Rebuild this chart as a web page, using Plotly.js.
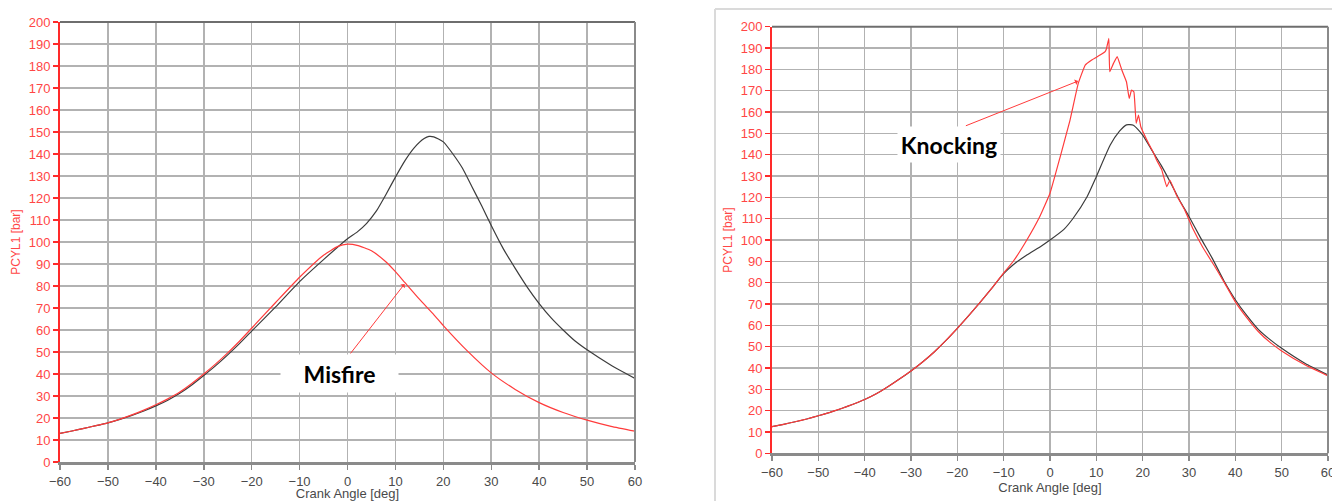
<!DOCTYPE html>
<html>
<head>
<meta charset="utf-8">
<script src="https://cdn.plot.ly/plotly-3.0.1.min.js"></script>
<style>
  html, body { margin: 0; padding: 0; background: #ffffff; }
  #chart { width: 1332px; height: 501px; }
</style>
</head>
<body>
<div id="chart"></div>
<script>
// Cylinder pressure traces, PCYL1 [bar] versus crank angle [deg]

// Left panel: normal combustion vs. misfire
const firedAngle = [-60, -57.5, -55, -52.5, -50, -47.5, -45, -42.5, -40, -37.5, -35, -32.5, -30, -27.5, -25, -22.5, -20, -15, -10, -5, 0, 2, 4, 6, 8, 10, 12, 14, 16, 17, 18, 20, 22, 24, 26, 28, 30, 32.5, 35, 37.5, 40, 42.5, 45, 47.5, 50, 55, 60];
const firedPressure = [13, 14.1, 15.3, 16.5, 17.8, 19.4, 21.2, 23.2, 25.5, 28.1, 31.2, 35, 39.3, 43.8, 48.7, 53.9, 59.5, 70.5, 82, 92, 101.5, 104.5, 108.5, 114, 121.5, 129.5, 137, 143, 147, 148, 147.8, 145.5, 140, 133.5, 125, 116.5, 107.5, 97, 88, 79.5, 72, 65.5, 60, 55, 51, 44, 38];

const misfireAngle = [-60, -57.5, -55, -52.5, -50, -47.5, -45, -42.5, -40, -37.5, -35, -32.5, -30, -27.5, -25, -22.5, -20, -15, -10, -5, -2, 0, 2, 5, 8, 10, 12, 15, 18, 20, 25, 30, 35, 40, 45, 50, 55, 60];
const misfirePressure = [13, 14.1, 15.3, 16.5, 17.8, 19.5, 21.4, 23.6, 26, 28.7, 31.8, 35.7, 40, 44.6, 49.6, 55, 60.8, 72.5, 84, 94, 98, 99, 98.5, 96, 91, 86.5, 81.5, 74, 67, 62, 50.5, 40.5, 33, 27, 22.5, 19, 16.2, 14];

// Right panel: normal combustion vs. knocking
const normalAngle = [-60, -57.5, -55, -52.5, -50, -47.5, -45, -42.5, -40, -37.5, -35, -32.5, -30, -27.5, -25, -22.5, -20, -17.5, -15, -12.5, -10, -8, -5, -2, 0, 3, 5, 8, 10, 13, 15, 16.5, 18, 20, 22, 24, 26, 28, 30, 32.5, 35, 37.5, 40, 42.5, 45, 47.5, 50, 55, 60];
const normalPressure = [12.5, 13.6, 14.8, 16.1, 17.6, 19.2, 21, 23, 25.2, 27.9, 31.2, 34.8, 38.6, 42.8, 47.5, 52.8, 58.6, 64.7, 71, 77.6, 84.2, 88.3, 93, 97, 100, 105, 110.2, 120.3, 129.7, 144.5, 151, 154, 153.8, 149.2, 142, 135, 127, 118.5, 111, 101, 91.5, 81, 72, 64.5, 58, 53.3, 49.2, 42.2, 36.7];

const knockAngle = [-60, -57.5, -55, -52.5, -50, -47.5, -45, -42.5, -40, -37.5, -35, -32.5, -30, -27.5, -25, -22.5, -20, -17.5, -15, -12.5, -10, -8, -5, -2.2, 0, 2.2, 4.3, 6.1, 7.6, 9, 10.8, 11.9, 12.2, 12.7, 12.9, 13.7, 14.5, 15.5, 16.5, 17.1, 17.6, 18.1, 18.6, 19.1, 19.6, 20.9, 22.3, 23, 24.1, 25.2, 25.9, 27.3, 29.1, 30.9, 33, 35.3, 37.5, 40, 42.5, 45, 47.5, 50, 55, 60];
const knockPressure = [12.5, 13.6, 14.8, 16.1, 17.6, 19.2, 21, 23, 25.2, 27.9, 31.2, 34.8, 38.6, 42.8, 47.5, 52.8, 58.6, 64.7, 71, 77.6, 84.6, 89.8, 100, 111, 121.9, 139, 156, 173.4, 182, 184.4, 186.7, 188.3, 189.8, 194.5, 178.9, 182.8, 186, 179.7, 174.2, 166.4, 170.3, 169.5, 154.7, 158.6, 153.1, 146.9, 141, 137.5, 133, 125, 128, 121, 114, 105, 96.5, 88.5, 80.5, 71, 63.5, 57, 52, 48, 41.5, 36.3];

// Callout labels and arrow targets
const misfireLabel = { text: 'Misfire', x: -1.7, y: 40.4, tailX: 0, tailY: 47.6, headX: 11.9, headY: 80.9 };
const knockLabel = { text: 'Knocking', x: -21.8, y: 144.8, tailX: -18.8, tailY: 153, headX: 6.05, headY: 174.5 };

const RED = '#ff3b3b';
const DARK = '#3c3c3c';
const GRID = '#b2b2b2';
const TICKTXT = '#4a4a4a';
const AXRED = '#ff2a2a';
const LABELRED = '#ff4646';
const FONT = 'Arial, "Liberation Sans", sans-serif';

const traces = [
  { x: firedAngle, y: firedPressure, xaxis: 'x', yaxis: 'y', type: 'scatter', mode: 'lines',
    line: { color: DARK, width: 1.2, shape: 'spline', smoothing: 0.5 }, hoverinfo: 'x+y' },
  { x: misfireAngle, y: misfirePressure, xaxis: 'x', yaxis: 'y', type: 'scatter', mode: 'lines',
    line: { color: RED, width: 1.2, shape: 'spline', smoothing: 0.5 }, hoverinfo: 'x+y' },
  { x: normalAngle, y: normalPressure, xaxis: 'x2', yaxis: 'y2', type: 'scatter', mode: 'lines',
    line: { color: DARK, width: 1.2, shape: 'spline', smoothing: 0.5 }, hoverinfo: 'x+y' },
  { x: knockAngle, y: knockPressure, xaxis: 'x2', yaxis: 'y2', type: 'scatter', mode: 'lines',
    line: { color: RED, width: 1.2, shape: 'spline', smoothing: 0.3 }, hoverinfo: 'x+y' }
];

function xAxis(domain, anchor) {
  return {
    domain: domain, anchor: anchor, range: [-60, 60], tick0: -60, dtick: 10,
    showgrid: true, gridcolor: GRID, gridwidth: 1.6, zeroline: false,
    showline: true, linecolor: '#8a8a8a', linewidth: 3,
    ticks: 'outside', ticklen: 5, tickwidth: 1.5, tickcolor: '#8a8a8a',
    ticklabeloverflow: 'allow',
    tickfont: { family: FONT, size: 13, color: TICKTXT },
    title: { text: 'Crank Angle [deg]', font: { family: FONT, size: 13, color: TICKTXT }, standoff: 0 },
    fixedrange: true
  };
}

function yAxis(domain, anchor) {
  return {
    domain: domain, anchor: anchor, range: [0, 200], tick0: 0, dtick: 10,
    showgrid: true, gridcolor: GRID, gridwidth: 1.6, zeroline: false,
    showline: true, linecolor: AXRED, linewidth: 2,
    ticks: 'outside', ticklen: 5, tickwidth: 1.5, tickcolor: AXRED,
    tickfont: { family: FONT, size: 13, color: LABELRED },
    title: { text: 'PCYL1 [bar]', font: { family: FONT, size: 12, color: LABELRED }, standoff: 5 },
    fixedrange: true
  };
}

function frameLines(xr, yr) {
  const base = { type: 'line', xref: xr + ' domain', yref: yr + ' domain', layer: 'above' };
  return [
    Object.assign({}, base, { x0: 0, x1: 1, y0: 1, y1: 1, line: { color: '#6e6e6e', width: 2 } }),
    Object.assign({}, base, { x0: 1, x1: 1, y0: 0, y1: 1, line: { color: '#8a8a8a', width: 2 } })
  ];
}

function callout(lbl, xr, yr, w, h) {
  return [
    { text: '<b>' + lbl.text + '</b>', x: lbl.x, y: lbl.y, xref: xr, yref: yr, showarrow: false,
      bgcolor: '#ffffff', width: w, height: h, borderpad: 0,
      font: { family: 'Lato, "Open Sans", sans-serif', size: 23, color: '#000000' } },
    { text: ' ', x: lbl.headX, y: lbl.headY, xref: xr, yref: yr,
      ax: lbl.tailX, ay: lbl.tailY, axref: xr, ayref: yr,
      showarrow: true, arrowhead: 1, arrowsize: 1, arrowwidth: 1, arrowcolor: RED, standoff: 0, startstandoff: 0 }
  ];
}

const layout = {
  width: 1332, height: 501,
  margin: { l: 0, r: 0, t: 0, b: 0 },
  paper_bgcolor: '#ffffff', plot_bgcolor: '#ffffff',
  showlegend: false,
  xaxis: xAxis([60 / 1332, 635 / 1332], 'y'),
  yaxis: yAxis([39 / 501, 479 / 501], 'x'),
  xaxis2: xAxis([772 / 1332, 1328 / 1332], 'y2'),
  yaxis2: yAxis([47.7 / 501, 474.3 / 501], 'x2'),
  shapes: [].concat(
    frameLines('x', 'y'),
    frameLines('x2', 'y2'),
    [
      { type: 'line', xref: 'paper', yref: 'paper', x0: 715 / 1332, x1: 715 / 1332, y0: 0, y1: 492 / 501,
        line: { color: '#dadada', width: 2 }, layer: 'below' },
      { type: 'line', xref: 'paper', yref: 'paper', x0: 715 / 1332, x1: 1, y0: 492 / 501, y1: 492 / 501,
        line: { color: '#dadada', width: 2 }, layer: 'below' }
    ]
  ),
  annotations: [].concat(
    callout(misfireLabel, 'x', 'y', 117, 37),
    callout(knockLabel, 'x2', 'y2', 102, 35)
  )
};

Plotly.newPlot('chart', traces, layout, { displayModeBar: false, staticPlot: true });
</script>
</body>
</html>
